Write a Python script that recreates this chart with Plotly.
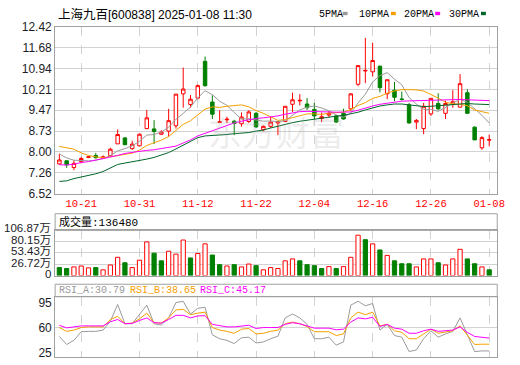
import plotly.graph_objects as go

# ---------------- data ----------------
dates = ["10-16", "10-17", "10-18", "10-21", "10-22", "10-23", "10-24", "10-25", "10-28", "10-29",
         "10-30", "10-31", "11-01", "11-04", "11-05", "11-06", "11-07", "11-08", "11-11", "11-12",
         "11-13", "11-14", "11-15", "11-18", "11-19", "11-20", "11-21", "11-22", "11-25", "11-26",
         "11-27", "11-28", "11-29", "12-02", "12-03", "12-04", "12-05", "12-06", "12-09", "12-10",
         "12-11", "12-12", "12-13", "12-16", "12-17", "12-18", "12-19", "12-20", "12-23", "12-24",
         "12-25", "12-26", "12-27", "12-30", "12-31", "01-02", "01-03", "01-06", "01-07", "01-08"]

opens = [7.57, 7.68, 7.44, 7.65, 7.80, 7.87, 7.77, 7.86, 8.28, 8.49,
         8.11, 8.21, 8.82, 8.81, 8.62, 8.73, 8.92, 10.05, 9.67, 9.90,
         11.20, 9.76, 9.04, 9.13, 9.08, 8.99, 9.07, 9.36, 8.78, 8.90,
         9.02, 9.07, 9.68, 9.80, 9.69, 9.50, 9.18, 9.30, 9.27, 9.36,
         9.52, 10.39, 10.86, 10.83, 11.03, 10.05, 10.18, 9.87, 9.66, 9.05,
         8.82, 9.34, 9.71, 9.36, 9.69, 9.58, 10.09, 8.87, 8.14, 8.41]
highs = [7.93, 7.70, 7.70, 7.82, 7.85, 7.96, 7.87, 8.14, 8.79, 8.52,
         8.39, 8.65, 9.48, 9.12, 8.76, 9.52, 10.04, 10.98, 10.01, 10.38,
         11.37, 10.00, 9.47, 9.24, 9.13, 9.39, 9.47, 9.41, 8.93, 9.24,
         9.07, 9.61, 10.09, 10.04, 9.90, 9.73, 9.39, 9.44, 9.31, 9.52,
         10.07, 11.07, 12.03, 11.86, 11.05, 10.55, 10.47, 10.13, 9.73, 9.16,
         9.73, 9.89, 10.07, 9.81, 10.18, 10.75, 10.21, 8.90, 8.55, 8.61]
lows = [7.54, 7.43, 7.35, 7.59, 7.78, 7.76, 7.75, 7.83, 8.28, 8.23,
        8.07, 8.19, 8.80, 8.27, 8.59, 8.53, 8.82, 9.56, 9.56, 9.86,
        10.30, 9.16, 9.03, 9.02, 8.59, 8.89, 9.02, 8.84, 8.73, 8.84,
        8.59, 9.05, 9.41, 9.64, 9.48, 9.14, 9.05, 9.22, 9.02, 9.14,
        9.44, 10.32, 10.43, 10.66, 10.10, 9.86, 9.79, 9.81, 8.99, 8.80,
        8.62, 9.27, 9.48, 9.16, 9.56, 9.56, 9.36, 8.42, 8.07, 8.19]
closes = [7.71, 7.54, 7.59, 7.76, 7.82, 7.79, 7.82, 8.09, 8.61, 8.25,
          8.27, 8.62, 9.20, 8.72, 8.70, 9.10, 10.04, 10.22, 9.86, 10.34,
          10.34, 9.33, 9.06, 9.15, 9.00, 9.23, 9.41, 8.88, 8.90, 9.05,
          9.07, 9.61, 9.84, 9.82, 9.56, 9.27, 9.24, 9.36, 9.05, 9.16,
          10.05, 11.05, 10.88, 11.23, 10.27, 10.55, 9.93, 9.85, 9.02, 9.11,
          9.61, 9.89, 9.52, 9.71, 9.77, 10.41, 9.36, 8.42, 8.50, 8.43]

volumes = [189000, 167000, 205000, 227000, 182000, 189000, 136000, 250000, 432000, 303000,
           189000, 364000, 796000, 530000, 349000, 576000, 508000, 841000, 417000, 523000,
           750000, 485000, 258000, 227000, 258000, 205000, 273000, 235000, 136000, 189000,
           167000, 349000, 394000, 349000, 258000, 235000, 167000, 212000, 167000, 212000,
           432000, 955000, 849000, 750000, 606000, 477000, 349000, 280000, 280000, 205000,
           394000, 394000, 303000, 250000, 394000, 621000, 394000, 280000, 205000, 136480]

ma5 = [7.92, 7.78, 7.70, 7.69, 7.68, 7.70, 7.76, 7.86, 8.03, 8.11,
       8.21, 8.37, 8.59, 8.61, 8.70, 8.87, 9.15, 9.36, 9.58, 9.91,
       10.16, 10.02, 9.79, 9.64, 9.38, 9.15, 9.17, 9.13, 9.08, 9.09,
       9.06, 9.10, 9.29, 9.48, 9.58, 9.62, 9.55, 9.45, 9.30, 9.22,
       9.37, 9.73, 10.04, 10.47, 10.70, 10.80, 10.57, 10.37, 9.92, 9.69,
       9.50, 9.50, 9.43, 9.57, 9.70, 9.86, 9.75, 9.53, 9.29, 9.02]
ma10 = [8.19, 8.14, 8.09, 7.96, 7.87, 7.82, 7.79, 7.82, 7.86, 7.90,
        7.95, 8.06, 8.22, 8.32, 8.41, 8.54, 8.76, 8.97, 9.10, 9.31,
        9.51, 9.59, 9.57, 9.61, 9.64, 9.66, 9.59, 9.46, 9.36, 9.24,
        9.11, 9.14, 9.21, 9.28, 9.34, 9.34, 9.32, 9.37, 9.39, 9.40,
        9.50, 9.64, 9.74, 9.89, 9.96, 10.08, 10.15, 10.20, 10.20, 10.19,
        10.15, 10.03, 9.90, 9.75, 9.70, 9.68, 9.63, 9.48, 9.43, 9.36]
ma20 = [7.54, 7.53, 7.56, 7.62, 7.65, 7.70, 7.77, 7.80, 7.87, 7.94,
        7.98, 8.01, 8.05, 8.07, 8.11, 8.16, 8.20, 8.31, 8.42, 8.56,
        8.65, 8.76, 8.84, 8.93, 9.02, 9.08, 9.14, 9.18, 9.20, 9.23,
        9.27, 9.33, 9.38, 9.42, 9.43, 9.43, 9.42, 9.41, 9.40, 9.40,
        9.41, 9.47, 9.55, 9.62, 9.68, 9.72, 9.76, 9.79, 9.80, 9.81,
        9.82, 9.82, 9.82, 9.83, 9.84, 9.85, 9.84, 9.83, 9.82, 9.81]
ma30 = [6.95, 6.97, 7.05, 7.10, 7.17, 7.22, 7.30, 7.42, 7.55, 7.60,
        7.64, 7.68, 7.74, 7.80, 7.88, 7.97, 8.10, 8.24, 8.38, 8.50,
        8.56, 8.57, 8.59, 8.61, 8.64, 8.66, 8.68, 8.73, 8.77, 8.84,
        8.91, 8.98, 9.03, 9.08, 9.12, 9.16, 9.20, 9.23, 9.26, 9.29,
        9.34, 9.40, 9.48, 9.56, 9.62, 9.66, 9.69, 9.69, 9.66, 9.61,
        9.60, 9.61, 9.63, 9.65, 9.67, 9.69, 9.71, 9.69, 9.68, 9.67]

rsi_a = [47.4, 36.1, 41.9, 54.1, 54.6, 54.6, 56.4, 69.0, 92.5, 65.4,
         65.4, 79.0, 91.6, 65.4, 63.6, 73.6, 95.2, 97.0, 79.0, 87.1,
         88.5, 49.6, 44.2, 41.9, 37.4, 45.5, 46.4, 38.3, 39.7, 44.2,
         47.8, 73.6, 79.0, 73.6, 64.5, 44.2, 44.2, 46.4, 35.2, 39.7,
         91.6, 97.0, 90.7, 93.9, 56.4, 64.5, 48.7, 46.4, 26.1, 28.4,
         44.2, 55.5, 46.4, 51.0, 54.6, 73.6, 48.7, 26.1, 27.0, 27.0]
rsi_b = [60.0, 54.6, 56.4, 60.0, 60.9, 60.9, 60.9, 71.3, 75.8, 65.4,
         66.3, 72.2, 80.3, 66.8, 66.3, 73.6, 84.8, 85.7, 78.1, 80.3,
         81.7, 60.0, 56.4, 54.6, 51.9, 57.7, 58.6, 51.0, 51.9, 54.6,
         56.4, 65.4, 67.7, 65.4, 61.4, 54.1, 54.1, 54.1, 48.7, 51.0,
         73.6, 81.7, 78.1, 81.7, 62.3, 64.5, 55.5, 53.2, 44.2, 44.2,
         51.0, 57.7, 51.9, 53.2, 55.5, 62.3, 48.7, 36.1, 36.5, 36.5]
rsi_c = [63.2, 59.5, 60.9, 62.3, 62.3, 62.3, 62.3, 68.1, 71.3, 65.4,
         65.9, 69.9, 73.6, 66.8, 66.3, 71.3, 77.2, 77.2, 73.6, 76.3,
         76.7, 64.5, 62.7, 60.9, 60.9, 62.3, 63.2, 58.6, 60.0, 60.0,
         60.0, 64.5, 66.8, 65.4, 62.3, 59.1, 59.1, 59.1, 56.8, 57.7,
         67.7, 73.6, 72.2, 74.5, 61.4, 64.5, 59.1, 57.7, 51.9, 51.9,
         55.5, 57.7, 54.6, 55.5, 56.4, 60.9, 53.2, 47.4, 46.4, 45.1]

price_tick_labels = ["6.52", "7.26", "8.00", "8.73", "9.47", "10.21", "10.94", "11.68", "12.42"]
date_tick_labels = ["10-21", "10-31", "11-12", "11-22", "12-04", "12-16", "12-26", "01-08"]
vol_tick_values = [1068700, 801500, 534300, 267200, 0]
vol_tick_labels = ["106.87万", "80.15万", "53.43万", "26.72万", "0"]
rsi_tick_values = [25, 60, 95]

title_name = "上海九百"
title_rest = "[600838] 2025-01-08 11:30"
ma_names = ["5PMA", "10PMA", "20PMA", "30PMA"]
vol_title = "成交量:136480"
rsi_header = ["RSI_A:30.79", "RSI_B:38.65", "RSI_C:45.17"]

# ---------------- styles ----------------
W, H = 520, 365
RED, GREEN = "#ff0000", "#008000"
MA_COLORS = ["#9a9a9a", "#f5a000", "#ff00ff", "#00662a"]
RSI_COLORS = ["#9a9a9a", "#f5a000", "#ff00ff"]
FRAME = "#a0a0a0"
GRID = "#d2d2d2"
LABEL_FONT = "Liberation Sans, Noto Sans CJK SC"
MONO_FONT = "Liberation Mono, Noto Sans CJK SC"


def fx(p):
    return p / W


def fy(p):
    return 1 - p / H


X0, X1 = 56, 505
MAIN_T, MAIN_B = 20.7, 194
VOL_T, VOL_B = 232.3, 279.3
RSI_T, RSI_B = 301.3, 364
VOLHDR_T = 215
RSIHDR_T = 288.3

idx = list(range(len(dates)))
xrange_ = [-0.58, 60.1]

fig = go.Figure()

fig.add_trace(go.Candlestick(
    x=idx, open=opens, high=highs, low=lows, close=closes,
    increasing=dict(line=dict(color=RED, width=1), fillcolor="#ffffff"),
    decreasing=dict(line=dict(color=GREEN, width=1), fillcolor=GREEN),
    whiskerwidth=0, xaxis="x", yaxis="y", hoverinfo="skip"))

for ma, col in zip([ma5, ma10, ma20, ma30], MA_COLORS):
    fig.add_trace(go.Scatter(x=idx, y=ma, mode="lines", line=dict(color=col, width=1),
                             xaxis="x", yaxis="y", hoverinfo="skip"))

vol_up = [i > 0 and closes[i] >= closes[i - 1] for i in idx]
fig.add_trace(go.Bar(
    x=idx, y=volumes, width=0.58,
    marker=dict(color=["#ffffff" if u else GREEN for u in vol_up],
                line=dict(color=[RED if u else GREEN for u in vol_up], width=1)),
    xaxis="x2", yaxis="y2", hoverinfo="skip"))

for r, col in zip([rsi_a, rsi_b, rsi_c], RSI_COLORS):
    fig.add_trace(go.Scatter(x=idx, y=r, mode="lines", line=dict(color=col, width=1),
                             xaxis="x3", yaxis="y3", hoverinfo="skip"))

date_tick_vals = [dates.index(d) for d in date_tick_labels]
xcommon = dict(domain=[fx(X0), fx(X1)], range=xrange_, tickvals=date_tick_vals,
               showgrid=True, gridcolor=GRID, griddash="dash", gridwidth=1,
               showline=True, mirror=True, linecolor=FRAME, linewidth=1,
               zeroline=False, ticks="", fixedrange=True)

fig.update_layout(
    width=W, height=H, margin=dict(l=0, r=0, t=0, b=0),
    paper_bgcolor="#ffffff", plot_bgcolor="#ffffff", showlegend=False,
    boxgap=0.32,
    xaxis=dict(**xcommon, anchor="y", ticktext=date_tick_labels,
               tickfont=dict(family=MONO_FONT, size=10.5, color=RED),
               rangeslider=dict(visible=False)),
    xaxis2=dict(**xcommon, anchor="y2", showticklabels=False),
    xaxis3=dict(**xcommon, anchor="y3", showticklabels=False),
    yaxis=dict(domain=[fy(MAIN_B), fy(MAIN_T)], range=[6.52, 12.42],
               tickvals=[float(t) for t in price_tick_labels], ticktext=price_tick_labels,
               tickfont=dict(family=LABEL_FONT, size=12, color="#1c1c28"),
               showgrid=True, gridcolor=GRID, showline=True, mirror=True,
               linecolor=FRAME, linewidth=1, zeroline=False, ticks="", anchor="x"),
    yaxis2=dict(domain=[fy(VOL_B), fy(VOL_T)], range=[0, vol_tick_values[0]],
                tickvals=vol_tick_values, showticklabels=False,
                showgrid=True, gridcolor=GRID, showline=True, mirror=True,
                linecolor=FRAME, linewidth=1, zeroline=False, ticks="", anchor="x2"),
    yaxis3=dict(domain=[fy(RSI_B), fy(RSI_T)], range=[18.4, 103.4],
                tickvals=rsi_tick_values, ticktext=[str(v) for v in rsi_tick_values],
                tickfont=dict(family=LABEL_FONT, size=12, color="#1c1c28"),
                showgrid=False, showline=True, mirror=True,
                linecolor=FRAME, linewidth=1, zeroline=False, ticks="", anchor="x3"),
)

shapes = [
    # RSI 60 reference line
    dict(type="line", xref="x3 domain", yref="y3", x0=0, x1=1, y0=60, y1=60,
         line=dict(color=GRID, width=1), layer="below"),
    # header boxes
    dict(type="rect", xref="paper", yref="paper", x0=fx(X0), x1=fx(X1),
         y0=fy(VOL_T), y1=fy(VOLHDR_T), line=dict(color=FRAME, width=1)),
    dict(type="rect", xref="paper", yref="paper", x0=fx(X0), x1=fx(X1),
         y0=fy(RSI_T), y1=fy(RSIHDR_T), line=dict(color=FRAME, width=1)),
]
# legend colour chips
chip_x = [348, 397, 442, 488.5]
for cx, col in zip(chip_x, MA_COLORS):
    shapes.append(dict(type="rect", xref="paper", yref="paper", x0=fx(cx), x1=fx(cx + 5),
                       y0=fy(8.5), y1=fy(5), line=dict(width=0), fillcolor=col))
fig.update_layout(shapes=shapes)

ann = []
ann.append(dict(xref="paper", yref="paper", x=fx(280), y=fy(102), text="东方财富",
                showarrow=False, font=dict(family="Noto Sans CJK SC", size=34,
                                           color="rgba(170,170,170,0.22)")))
ann.append(dict(xref="paper", yref="paper", x=fx(57), y=fy(8), xanchor="left", yanchor="middle",
                text='<span style="font-size:12.5px">' + title_name + "</span>" + title_rest,
                showarrow=False, font=dict(family=LABEL_FONT, size=12, color="#000000")))
ma_x = [322, 363, 408, 454]
for name, x in zip(ma_names, ma_x):
    ann.append(dict(xref="paper", yref="paper", x=fx(x), y=fy(7.5), xanchor="left",
                    yanchor="middle", text=name, showarrow=False,
                    font=dict(family=MONO_FONT, size=10, color="#000000")))
ann.append(dict(xref="paper", yref="paper", x=fx(57.5), y=fy(224), xanchor="left",
                yanchor="middle", text=vol_title, showarrow=False,
                font=dict(family=MONO_FONT, size=11, color="#000000")))
rsi_x = [57.5, 129.5, 201.5]
for t, x, col in zip(rsi_header, rsi_x, RSI_COLORS):
    ann.append(dict(xref="paper", yref="paper", x=fx(x), y=fy(295), xanchor="left",
                    yanchor="middle", text=t, showarrow=False,
                    font=dict(family=MONO_FONT, size=10, color=col)))
vol_label_y = [229.5, 242.0, 253.5, 266.0, 277.3]
for t, y in zip(vol_tick_labels, vol_label_y):
    ann.append(dict(xref="paper", yref="paper", x=fx(54), y=fy(y), xanchor="right",
                    yanchor="middle", text=t, showarrow=False,
                    font=dict(family=LABEL_FONT, size=11.5, color="#1c1c28")))
fig.update_layout(annotations=ann)

fig.write_html("out.html", config={"displayModeBar": False, "staticPlot": True})
